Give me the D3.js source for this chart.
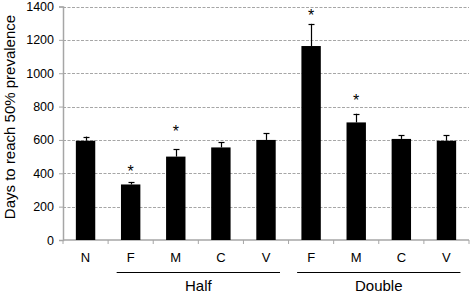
<!DOCTYPE html>
<html><head><meta charset="utf-8">
<script src="https://cdn.jsdelivr.net/npm/d3@7"></script>
<style>body{margin:0;background:#fff}svg{display:block}text{font-family:"Liberation Sans",Arial,sans-serif}</style>
</head><body><svg id="c" width="472" height="294"></svg>
<script>
const categories = ["N","F","M","C","V","F","M","C","V"];
const values = [595, 333, 500, 555, 600, 1163, 705, 606, 595];
const errors = [25, 15, 45, 32, 40, 133, 52, 22, 32];
const starValues = [null, 431, 670, null, null, 1366, 854, null, null];
const groups = [{name:"Half", from:1, to:4}, {name:"Double", from:5, to:8}];
const yTicks = [0,200,400,600,800,1000,1200,1400];

const svg = d3.select("#c");
const pLeft = 63, pRight = 469, pTop = 6.5, pBottom = 240;
const x = d3.scaleBand().domain(d3.range(categories.length)).range([pLeft, pRight]).paddingInner(0.57).paddingOuter(0.285);
const y = d3.scaleLinear().domain([0,1400]).range([pBottom, pTop]);

// gridlines
svg.append("g").selectAll("line").data(yTicks.filter(d=>d>0)).join("line")
  .attr("x1", pLeft).attr("x2", pRight).attr("y1", d=>Math.round(y(d))+0.5).attr("y2", d=>Math.round(y(d))+0.5)
  .attr("stroke", "#a6a6a6").attr("stroke-dasharray", "3,1.5").attr("stroke-width", 1);

// y axis
const ya = svg.append("g").attr("transform", `translate(${pLeft},0)`)
  .call(d3.axisLeft(y).tickValues(yTicks).tickFormat(d3.format("d")).tickSize(4).tickPadding(5));
ya.select(".domain").attr("stroke", "#a6a6a6").attr("stroke-width", 1.5);
ya.selectAll(".tick line").attr("stroke", "#a6a6a6");
ya.selectAll(".tick text").attr("font-size", 12.5).attr("fill", "#000").attr("font-family", "Liberation Sans, Arial, sans-serif");

// x axis
const xa = svg.append("g").attr("transform", `translate(0,${pBottom})`);
xa.append("line").attr("x1", pLeft).attr("x2", pRight).attr("stroke", "#a6a6a6").attr("stroke-width", 1.5);
xa.selectAll(".tk").data(d3.range(categories.length+1)).join("line").attr("class","tk")
  .attr("x1", i=>pLeft + i*(pRight-pLeft)/categories.length).attr("x2", i=>pLeft + i*(pRight-pLeft)/categories.length)
  .attr("y1", 0).attr("y2", 4).attr("stroke", "#a6a6a6");
xa.selectAll("text").data(categories).join("text")
  .attr("x", (d,i)=>x(i)+x.bandwidth()/2).attr("y", 21.5).attr("text-anchor","middle")
  .attr("font-size", 13).text(d=>d);

// bars
svg.append("g").selectAll("rect").data(values).join("rect")
  .attr("x", (d,i)=>x(i)).attr("width", x.bandwidth())
  .attr("y", d=>y(d)).attr("height", d=>y(0)-y(d)).attr("fill", "#000");

// error bars
const eb = svg.append("g").attr("stroke", "#000").attr("stroke-width", 1.2);
values.forEach((v,i)=>{
  const cx = Math.round(x(i)+x.bandwidth()/2)+0.5;
  eb.append("line").attr("x1", cx).attr("x2", cx).attr("y1", y(v)).attr("y2", y(v+errors[i]));
  eb.append("line").attr("x1", cx-3).attr("x2", cx+3).attr("y1", Math.round(y(v+errors[i]))+0.5).attr("y2", Math.round(y(v+errors[i]))+0.5);
});

// stars
svg.append("g").selectAll("text").data(starValues.map((s,i)=>({s,i})).filter(d=>d.s!==null)).join("text")
  .attr("x", d=>x(d.i)+x.bandwidth()/2).attr("y", d=>y(d.s)+8.5).attr("text-anchor","middle")
  .attr("font-size", 16).text("*");

// group lines & labels
groups.forEach(g=>{
  const x1 = x(g.from)+x.bandwidth()/2 - 14, x2 = x(g.to)+x.bandwidth()/2 + 14;
  svg.append("line").attr("x1", x1).attr("x2", x2).attr("y1", 272.5).attr("y2", 272.5).attr("stroke", "#000").attr("stroke-width", 1);
  svg.append("text").attr("x", (x1+x2)/2).attr("y", 291).attr("text-anchor","middle").attr("font-size", 15).text(g.name);
});

// y label
svg.append("text").attr("transform", `translate(14.5,117) rotate(-90)`)
  .attr("text-anchor","middle").attr("font-size", 15).text("Days to reach 50% prevalence");
</script></body></html>
